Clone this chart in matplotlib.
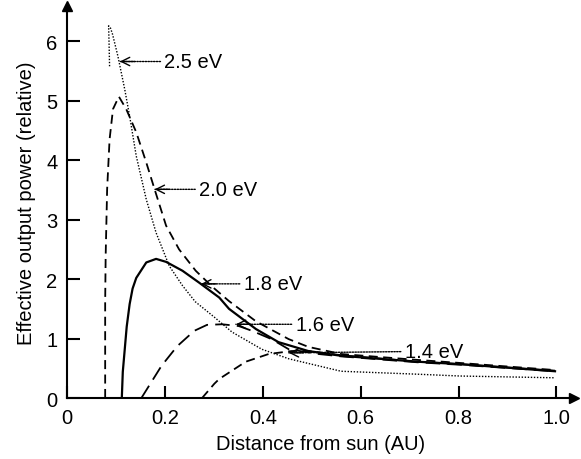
import matplotlib
matplotlib.use("Agg")
import matplotlib.pyplot as plt

plt.rcParams['font.family'] = ['Liberation Sans', 'DejaVu Sans']

# Effective output power versus distance from the sun for several band gaps
x_25 = [0.087, 0.086, 0.085, 0.089, 0.093, 0.104, 0.118, 0.128, 0.1415, 0.162,
        0.182, 0.209, 0.236, 0.262, 0.301, 0.337, 0.398, 0.453, 0.560, 0.717,
        0.802, 0.997]
y_25 = [5.58, 5.95, 6.26, 6.22, 6.12, 5.75, 5.19, 4.74, 4.07, 3.34,
        2.78, 2.22, 1.89, 1.62, 1.36, 1.11, 0.82, 0.66, 0.45, 0.40,
        0.37, 0.34]

x_20 = [0.078, 0.078, 0.079, 0.082, 0.087, 0.094, 0.106, 0.121, 0.1415, 0.162,
        0.179, 0.2024, 0.229, 0.263, 0.297, 0.331, 0.386, 0.453, 0.493, 0.560,
        0.717, 0.802, 0.997]
y_20 = [0.00, 1.61, 2.39, 3.51, 4.35, 4.86, 5.07, 4.86, 4.47, 3.96,
        3.51, 2.90, 2.50, 2.14, 1.87, 1.63, 1.29, 0.99, 0.86, 0.74,
        0.64, 0.59, 0.47]

x_18 = [0.112, 0.114, 0.118, 0.122, 0.128, 0.134, 0.1415, 0.162, 0.182, 0.2024,
        0.236, 0.270, 0.311, 0.331, 0.386, 0.432, 0.493, 0.560, 0.717, 0.802,
        0.997]
y_18 = [0.00, 0.44, 0.82, 1.20, 1.58, 1.84, 2.02, 2.28, 2.34, 2.29,
        2.14, 1.94, 1.69, 1.50, 1.16, 0.94, 0.79, 0.71, 0.61, 0.57,
        0.45]

x_16 = [0.152, 0.193, 0.225, 0.260, 0.286, 0.317, 0.351, 0.378, 0.418, 0.453,
        0.514, 0.560, 0.717, 0.802, 0.997]
y_16 = [0.00, 0.54, 0.87, 1.13, 1.23, 1.24, 1.21, 1.13, 0.99, 0.82,
        0.74, 0.70, 0.60, 0.56, 0.45]

x_14 = [0.276, 0.301, 0.311, 0.365, 0.412, 0.459, 0.493, 0.560, 0.717, 0.802, 0.997]
y_14 = [0.00, 0.24, 0.32, 0.61, 0.74, 0.79, 0.79, 0.72, 0.61, 0.57, 0.46]

labels = ["2.5 eV", "2.0 eV", "1.8 eV", "1.6 eV", "1.4 eV"]
arrow_tips = [(0.108, 5.66), (0.179, 3.51), (0.274, 1.92), (0.345, 1.24), (0.453, 0.76)]
label_pos = [(0.199, 5.66), (0.270, 3.51), (0.361, 1.92), (0.467, 1.24), (0.690, 0.78)]

x_ticks = [0, 0.2, 0.4, 0.6, 0.8, 1.0]
x_ticklabels = ["0", "0.2", "0.4", "0.6", "0.8", "1.0"]
y_ticks = [0, 1, 2, 3, 4, 5, 6]

fig = plt.figure(figsize=(5.81, 4.60), dpi=100)
ax = fig.add_axes([0.1153, 0.1326, 0.872, 0.853])

ax.plot(x_25, y_25, color='black', lw=1.0, linestyle=(0, (1, 1.2)))
ax.plot(x_20, y_20, color='black', lw=1.3, linestyle=(0, (5, 3)))
ax.plot(x_18, y_18, color='black', lw=1.6, linestyle='-')
ax.plot(x_16, y_16, color='black', lw=1.3, linestyle=(0, (8, 4)))
ax.plot(x_14, y_14, color='black', lw=1.3, linestyle=(0, (5, 3)))

for text, tip, pos in zip(labels, arrow_tips, label_pos):
    # dotted leader from label to curve
    ax.annotate("", xy=tip, xytext=(pos[0] - 0.008, pos[1]),
                arrowprops=dict(arrowstyle='-', linestyle=(0, (1, 1)), lw=1.0,
                                color='black', shrinkA=0, shrinkB=0))
    # open arrowhead at the curve
    ax.annotate("", xy=tip, xytext=(tip[0] + 0.03, tip[1]),
                arrowprops=dict(arrowstyle='->,head_length=0.6,head_width=0.3',
                                lw=1.0, color='black', shrinkA=0, shrinkB=0))
    ax.text(pos[0], pos[1], text, fontsize=14.5, va='center', ha='left')

ax.set_xlim(0, 1.035)
ax.set_ylim(0, 6.6)
ax.set_xticks(x_ticks)
ax.set_xticklabels(x_ticklabels)
ax.set_yticks(y_ticks)
ax.tick_params(direction='in', length=9, width=1.5, labelsize=14.5, pad=7)

for side in ('top', 'right'):
    ax.spines[side].set_visible(False)
for side in ('left', 'bottom'):
    ax.spines[side].set_linewidth(1.5)

ax.plot(1, 0, '>k', markersize=7, transform=ax.get_yaxis_transform(), clip_on=False)
ax.plot(0, 1, '^k', markersize=7, transform=ax.get_xaxis_transform(), clip_on=False)

ax.set_xlabel("Distance from sun (AU)", fontsize=14.5, labelpad=5)
ax.set_ylabel("Effective output power (relative)", fontsize=14.5, labelpad=7)

fig.savefig("out.png", dpi=100)
